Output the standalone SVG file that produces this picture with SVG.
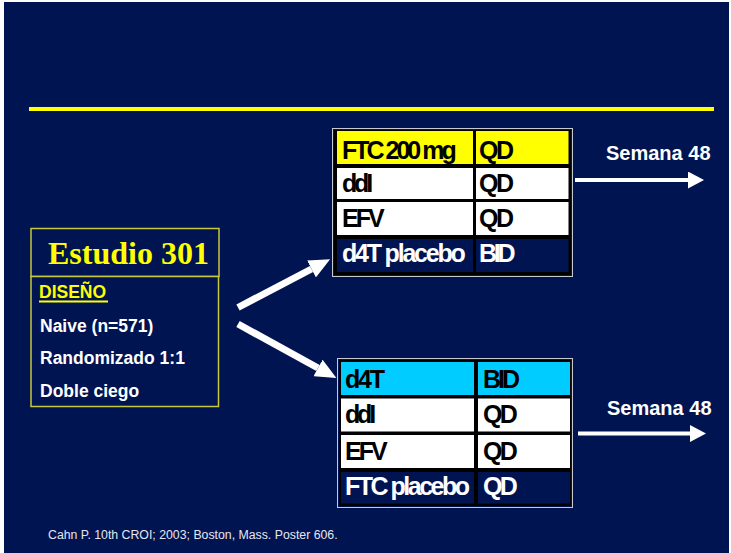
<svg xmlns="http://www.w3.org/2000/svg" width="731" height="553" viewBox="0 0 731 553">
<style>
.bg{fill:#001452}
.cellt{font-family:"Liberation Sans",Arial,sans-serif;font-weight:bold;font-size:25px}
.dk{fill:#000}
.lt{fill:#fff}
.info{font-family:"Liberation Sans",Arial,sans-serif;font-weight:bold;font-size:17.5px;fill:#fff}
.sem{font-family:"Liberation Sans",Arial,sans-serif;font-weight:bold;font-size:20px;fill:#fff}
.outer{fill:none;stroke:#c8c8d0;stroke-width:1}
.frame{fill:#000}
.box{fill:#001452;stroke:#c8c83c;stroke-width:1.5}
</style>
<defs>
<marker id="headH" markerUnits="userSpaceOnUse" viewBox="0 0 16 17" refX="0" refY="8.5" markerWidth="16" markerHeight="17" orient="auto">
<path d="M0,0 L16,8.5 L0,17 z" fill="#fff"/>
</marker>
<marker id="headD" markerUnits="userSpaceOnUse" viewBox="0 0 21 19" refX="0" refY="9.5" markerWidth="21" markerHeight="19" orient="auto">
<path d="M0,0 L21,9.5 L0,19 z" fill="#fff"/>
</marker>
</defs>
<rect x="0" y="0" width="731" height="553" fill="#fff"/>
<rect x="4" y="2" width="725" height="551" class="bg"/>
<rect x="29" y="107" width="685" height="4" fill="#ffff00"/>

<g id="estudio">
<rect x="31" y="228.5" width="188" height="48" class="box"/>
<rect x="31" y="276.5" width="187.5" height="130" class="box"/>
<text x="48" y="264" font-family="'Liberation Serif','Times New Roman',serif" font-weight="bold" font-size="32" fill="#ffff00">Estudio 301</text>
<text x="39" y="298" font-family="'Liberation Sans',Arial,sans-serif" font-weight="bold" font-size="17.5" fill="#ffff00">DISEÑO</text>
<rect x="39" y="300.5" width="69" height="2" fill="#ffff00"/>
<text x="40" y="332" class="info">Naive (n=571)</text>
<text x="40" y="364" class="info">Randomizado 1:1</text>
<text x="40" y="396.5" class="info">Doble ciego</text>
</g>

<g id="tabla1">
<rect x="332.5" y="128.5" width="240" height="148" class="outer"/>
<rect x="334" y="130" width="237" height="145" class="frame"/>
<rect x="337" y="131" width="136" height="33" fill="#ffff00"/>
<rect x="476" y="131" width="92.5" height="33" fill="#ffff00"/>
<rect x="337" y="168" width="136" height="31" fill="#fff"/>
<rect x="476" y="168" width="92.5" height="31" fill="#fff"/>
<rect x="337" y="202" width="136" height="33" fill="#fff"/>
<rect x="476" y="202" width="92.5" height="33" fill="#fff"/>
<rect x="337" y="239" width="136" height="33" class="bg"/>
<rect x="476" y="239" width="92.5" height="33" class="bg"/>
<text x="342" y="159" class="cellt dk" letter-spacing="-3">FTC 200 mg</text>
<text x="479" y="159" class="cellt dk" letter-spacing="-2.4">QD</text>
<text x="342" y="192" class="cellt dk" letter-spacing="-3.2">ddI</text>
<text x="479" y="192" class="cellt dk" letter-spacing="-2.4">QD</text>
<text x="342" y="226.5" class="cellt dk" letter-spacing="-3">EFV</text>
<text x="479" y="226.5" class="cellt dk" letter-spacing="-2.4">QD</text>
<text x="342" y="262" class="cellt lt" letter-spacing="-2.2">d4T placebo</text>
<text x="479" y="262" class="cellt lt" letter-spacing="-3.2">BID</text>
</g>

<g id="tabla2">
<rect x="337.5" y="358.5" width="235" height="149" class="outer"/>
<rect x="339" y="360" width="232" height="146" class="frame"/>
<rect x="341" y="362" width="133" height="33" fill="#00ccff"/>
<rect x="478" y="362" width="92" height="33" fill="#00ccff"/>
<rect x="341" y="398.5" width="133" height="33" fill="#fff"/>
<rect x="478" y="398.5" width="92" height="33" fill="#fff"/>
<rect x="341" y="435" width="133" height="33" fill="#fff"/>
<rect x="478" y="435" width="92" height="33" fill="#fff"/>
<rect x="341" y="472" width="133" height="31.5" class="bg"/>
<rect x="478" y="472" width="92" height="31.5" class="bg"/>
<text x="345" y="388" class="cellt dk" letter-spacing="-2.2">d4T</text>
<text x="483" y="388" class="cellt dk" letter-spacing="-3">BID</text>
<text x="345" y="423" class="cellt dk" letter-spacing="-3.2">ddI</text>
<text x="483" y="423" class="cellt dk" letter-spacing="-2.6">QD</text>
<text x="345" y="460" class="cellt dk" letter-spacing="-3">EFV</text>
<text x="483" y="460" class="cellt dk" letter-spacing="-2.6">QD</text>
<text x="345" y="495" class="cellt lt" letter-spacing="-2.5">FTC placebo</text>
<text x="483" y="495" class="cellt lt" letter-spacing="-2.6">QD</text>
</g>

<g id="semana1">
<text x="606" y="160" class="sem">Semana 48</text>
</g>
<g id="semana2">
<text x="607" y="415" class="sem">Semana 48</text>
</g>

<g id="connectors" stroke="#fff" fill="none">
<line x1="238" y1="307.5" x2="311.5" y2="269" stroke-width="7" marker-end="url(#headD)"/>
<line x1="238" y1="324" x2="318" y2="368" stroke-width="7" marker-end="url(#headD)"/>
<line x1="575" y1="180" x2="688" y2="180" stroke-width="4" marker-end="url(#headH)"/>
<line x1="578" y1="433.5" x2="690" y2="433.5" stroke-width="4" marker-end="url(#headH)"/>
</g>

<text x="48" y="539" font-family="'Liberation Sans',Arial,sans-serif" font-size="12.3" fill="#e6e6ee">Cahn P. 10th CROI; 2003; Boston, Mass. Poster 606.</text>
</svg>
